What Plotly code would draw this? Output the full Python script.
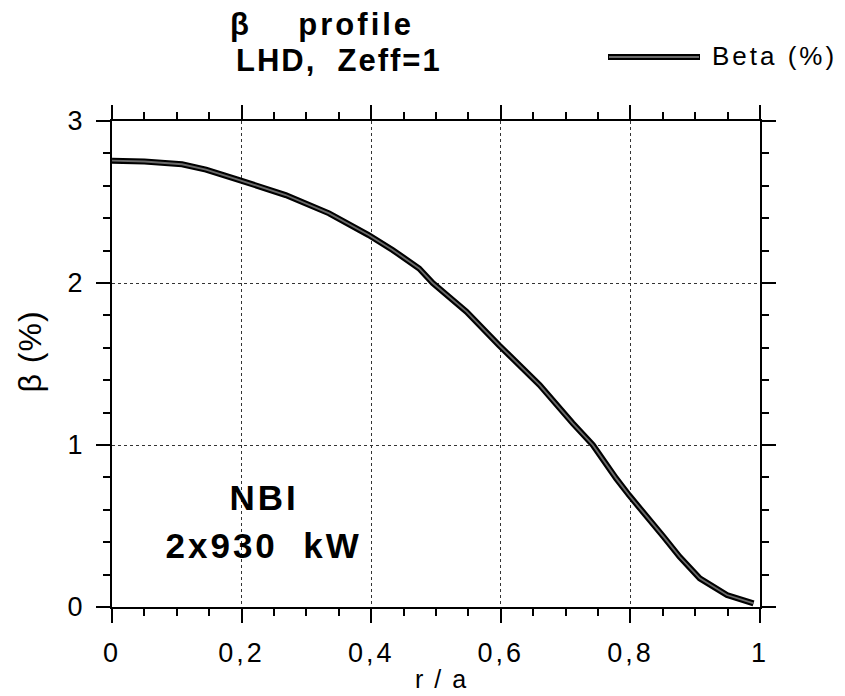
import plotly.graph_objects as go

# Data
r_a = [0.0, 0.05, 0.108, 0.145, 0.193, 0.268, 0.335, 0.396, 0.433, 0.474, 0.495,
       0.547, 0.597, 0.66, 0.711, 0.742, 0.778, 0.798, 0.851, 0.876, 0.907, 0.949, 0.99]
beta = [2.755, 2.75, 2.733, 2.70, 2.64, 2.543, 2.43, 2.296, 2.204, 2.09, 2.0,
        1.823, 1.617, 1.37, 1.134, 1.0, 0.794, 0.69, 0.434, 0.31, 0.177, 0.074, 0.023]

x_ticks = [0, 0.2, 0.4, 0.6, 0.8, 1]
x_ticklabels = ["0", "0,2", "0,4", "0,6", "0,8", "1"]
y_ticks = [0, 1, 2, 3]
y_ticklabels = ["0", "1", "2", "3"]

W, H = 845, 696
L, R, T, B = 112, 85, 121, 89
pw, ph = W - L - R, H - T - B


def px(xp):
    return (xp - L) / pw


def py(yp):
    return (H - B - yp) / ph


FONT = "Liberation Sans, Arial, Helvetica, sans-serif"

fig = go.Figure()
fig.add_trace(go.Scatter(x=r_a, y=beta, mode="lines", name="Beta (%)",
                         line=dict(color="black", width=6), showlegend=False,
                         hoverinfo="skip"))
fig.add_trace(go.Scatter(x=r_a, y=beta, mode="lines", name="Beta (%)",
                         line=dict(color="#6a6a6a", width=1.8), showlegend=False))

axis_common = dict(
    showline=True, linecolor="black", linewidth=2, mirror="ticks",
    ticks="outside", ticklen=14, tickwidth=1.5, tickcolor="black",
    showgrid=True, gridcolor="#333333", gridwidth=1, griddash="dot",
    zeroline=False, tickfont=dict(family=FONT, size=27, color="black"),
)

fig.update_xaxes(range=[0, 1], tickvals=x_ticks, ticktext=x_ticklabels,
                 minor=dict(dtick=0.05, ticks="outside", ticklen=7,
                            tickcolor="black", showgrid=False),
                 ticklabelstandoff=7, **axis_common)
fig.update_yaxes(range=[0, 3], tickvals=y_ticks, ticktext=y_ticklabels,
                 minor=dict(dtick=0.2, ticks="outside", ticklen=7,
                            tickcolor="black", showgrid=False),
                 ticklabelstandoff=8, **axis_common)

# (text, center x px, center y px, size, angle)
ann = [
    ("<b>β    profile</b>", 322, 24.5, 31, 0),
    ("<b>LHD,  Zeff=1</b>", 339, 61, 31, 0),
    ("<b>NBI</b>", 264, 497.5, 35, 0),
    ("<b>2x930  kW</b>", 263, 545.5, 35, 0),
    ("r / a", 441, 679, 25, 0),
    ("β (%)", 30, 352, 32, -90),
    ("Beta (%)", 774, 56, 26, 0),
]
annotations = []
for text, cx, cy, size, ang in ann:
    annotations.append(dict(text=text, x=px(cx), y=py(cy), xref="paper", yref="paper",
                            xanchor="center", yanchor="middle", showarrow=False,
                            textangle=ang,
                            font=dict(family=FONT, size=size, color="black")))

shapes = [
    dict(type="line", xref="paper", yref="paper", x0=px(608), x1=px(700), y0=py(57), y1=py(57),
         line=dict(color="black", width=6)),
    dict(type="line", xref="paper", yref="paper", x0=px(609), x1=px(699), y0=py(57), y1=py(57),
         line=dict(color="#6a6a6a", width=1.8)),
]

fig.update_layout(
    width=W, height=H, margin=dict(l=L, r=R, t=T, b=B, autoexpand=False),
    plot_bgcolor="white", paper_bgcolor="white", showlegend=False,
    annotations=annotations, shapes=shapes,
    font=dict(family=FONT, color="black"),
)

post = """
var sp = [3, 2, 3, 3, 2, 1, 3];
var a = document.querySelectorAll('.annotation-text');
a.forEach(function(t, i){ if (i < sp.length) { t.style.letterSpacing = sp[i] + 'px'; } });
document.querySelectorAll('.xtick text').forEach(function(t){ t.style.letterSpacing = '3px'; });
"""

fig.write_html("out.html", post_script=post)
